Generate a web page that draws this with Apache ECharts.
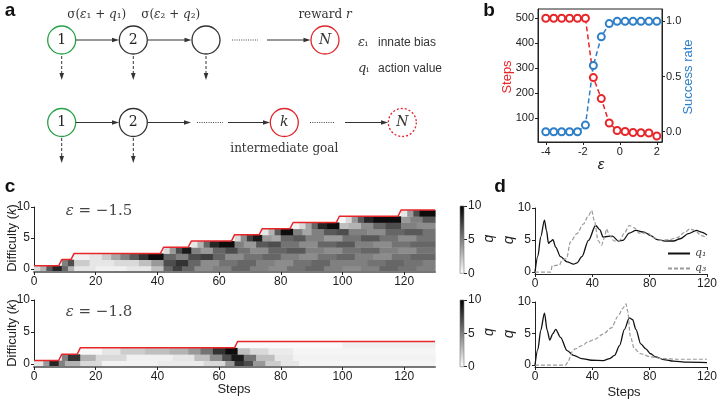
<!DOCTYPE html>
<html>
<head>
<meta charset="utf-8">
<script src="https://cdn.jsdelivr.net/npm/echarts@6/dist/echarts.min.js"></script>
<style>
html, body { margin: 0; padding: 0; background: #fff; }
#chart-container { width: 720px; height: 399px; }
</style>
</head>
<body>
<div id="chart-container"></div>
<script>
var dom = document.getElementById("chart-container");
var myChart = echarts.init(dom, null, { renderer: "canvas" });

const SANS = "Liberation Sans, Arial, sans-serif";
const SERIF = "DejaVu Serif, serif";

// panel b: steps / success rate against innate bias
const epsValues = [-4, -3.571, -3.143, -2.714, -2.286, -1.857, -1.429, -1, -0.571, -0.143, 0.286, 0.714, 1.143, 1.571, 2];
const stepsValues = [500, 500, 500, 500, 500, 500, 262, 178, 80, 50, 46, 42, 41, 40, 28];
const successValues = [0, 0, 0, 0, 0, 0.06, 0.6, 0.86, 0.98, 1, 1, 1, 1, 1, 1];
const epsTicks = [-4, -2, 0, 2];
const stepsTicks = [100, 200, 300, 400, 500];
const rateTicks = [0, 0.5, 1];

// panel c: q per difficulty row, segments [fromStep, toStep, q]
const stepTicks = [0, 20, 40, 60, 80, 100, 120];
const kTicks = [0, 5, 10];
const heatTopRows = [
  [[0,2,1.5],[2,4,3],[4,6,6.5],[6,9,8.5],[9,11,6],[11,13,3],[13,20,1],[20,30,0.6],[30,38,1],[38,42,2.5],[42,45,6],[45,48,7.5],[48,52,6],[52,58,4.5],[58,64,5],[64,70,6],[70,76,5],[76,82,4.5],[82,88,5.5],[88,94,6],[94,100,5],[100,106,4.5],[106,112,5],[112,118,6],[118,124,5.5],[124,130,5]],
  [[9,11,5],[11,13,7],[13,18,2],[18,26,1],[26,34,1.5],[34,38,2.5],[38,42,4],[42,46,7],[46,50,8],[50,54,6],[54,60,4.5],[60,66,5.5],[66,72,6],[72,78,5],[78,84,4.5],[84,90,5.5],[90,96,6],[96,102,5],[102,108,5],[108,114,5.5],[114,120,6],[120,126,5.5],[126,130,5]],
  [[13,18,0.5],[18,22,1],[22,25,2],[25,28,3.5],[28,31,5],[31,34,6.5],[34,37,8],[37,42,9.5],[42,46,6],[46,50,5],[50,54,7],[54,58,7.5],[58,62,6],[62,68,4.5],[68,74,5.5],[74,80,6],[80,86,5],[86,92,4.5],[92,98,5.5],[98,104,6],[104,110,5],[110,116,4.5],[116,122,5.5],[122,130,6]],
  [[42,44,1.5],[44,46,4],[46,48,7],[48,51,9],[51,54,5],[54,58,4],[58,62,6],[62,66,7],[66,70,5.5],[70,76,4.5],[76,82,6],[82,88,6.5],[88,94,5],[94,100,4.5],[100,106,5.5],[106,112,6],[112,118,5],[118,124,4.5],[124,130,5.5]],
  [[51,53,1],[53,55,3],[55,57,6],[57,60,8.5],[60,65,9.5],[65,68,5],[68,72,4],[72,76,6.5],[76,80,7],[80,86,5.5],[86,92,4.5],[92,98,6],[98,104,6.5],[104,110,5],[110,116,4.5],[116,122,5.5],[122,130,6]],
  [[65,67,1.5],[67,69,4.5],[69,71,7.5],[71,74,9],[74,77,4],[77,80,3.5],[80,84,6],[84,88,6.5],[88,94,5],[94,100,4],[100,106,5.5],[106,112,6.5],[112,118,5.5],[118,124,4.5],[124,130,5.5]],
  [[74,76,1],[76,78,3],[78,80,6.5],[80,84,9.5],[84,87,5],[87,90,3.5],[90,94,5],[94,98,6.5],[98,102,7],[102,108,5],[108,114,4.5],[114,120,6],[120,126,6.5],[126,130,5.5]],
  [[84,86,0.5],[86,88,1.5],[88,90,3.5],[90,92,6],[92,95,8.5],[95,99,9.5],[99,102,2.5],[102,106,3],[106,110,4.5],[110,114,6],[114,119,7],[119,124,5],[124,130,4.5]],
  [[99,101,0.3],[101,103,1.5],[103,105,4],[105,107,6.5],[107,110,8.5],[110,119,9.5],[119,122,4],[122,126,5],[126,130,6.5]],
  [[119,121,1],[121,123,4],[123,125,7],[125,130,9.5]],
];
const heatBottomRows = [
  [[0,3,1],[3,5,4],[5,8,8.5],[8,10,5],[10,15,3],[15,22,1.5],[22,40,0.5],[40,55,0.8],[55,62,1.5],[62,65,4],[65,68,8],[68,71,7],[71,75,4],[75,80,2],[80,86,1],[86,130,0.4]],
  [[9,11,5],[11,15,8],[15,20,3],[20,30,1.5],[30,45,0.6],[45,52,1],[52,57,2.5],[57,61,4.5],[61,64,7],[64,68,9],[68,72,5.5],[72,78,2.5],[78,84,1],[84,130,0.5]],
  [[15,22,0.3],[22,28,1],[28,36,2],[36,44,2.5],[44,50,3],[50,54,4],[54,58,5.5],[58,62,8],[62,66,9.5],[66,70,2.5],[70,76,1.5],[76,84,0.8],[84,130,0.4]],
  [[66,100,0.2],[100,130,0.6]],
];
const goalTop = [[0,0.5],[8,0.5],[9,1.5],[12,1.5],[13,2.5],[41,2.5],[42,3.5],[50,3.5],[51,4.5],[64,4.5],[65,5.5],[73,5.5],[74,6.5],[83,6.5],[84,7.5],[98,7.5],[99,8.5],[118,8.5],[119,9.5],[130,9.5]];
const goalBottom = [[0,0.5],[8,0.5],[9,1.5],[14,1.5],[15,2.5],[65,2.5],[66,3.5],[130,3.5]];

// panel d: action values over steps
const dStepTicks = [0, 40, 80, 120];
const qTicks = [0, 5, 10];
const q1Top = [[0,0],[2,2.5],[4,5.5],[6.6,8.1],[8,6.5],[9.4,4.5],[11,4.8],[12.5,5.05],[14.4,3.9],[17.8,2.4],[22.4,1.6],[27,1.24],[29.3,1.44],[32.7,2.4],[37.3,4.95],[42.3,7.27],[45.3,6.6],[47.5,5.46],[51,5.57],[54,5.6],[58.3,4.85],[61.3,4.95],[65.8,6.08],[70.4,6.5],[76.1,6.24],[80.7,5.7],[85.3,5.05],[91,4.85],[96.7,4.85],[101.3,5.2],[107,6],[112.7,6.5],[116.1,6.24],[120,5.8]];
const q3Top = [[0,0],[11,0],[12,1],[17,1.1],[19,1.9],[22,2.1],[24.7,4.7],[29.3,6],[33.8,7.5],[37.3,8.8],[39.5,9.6],[41.4,8],[44.1,4.9],[46.4,4.2],[48.7,5.5],[49.8,6.75],[52.1,5.7],[55.1,4.85],[59,4.95],[62.4,6.08],[65.8,7.27],[69.3,6.9],[72.7,6.08],[78.4,6.1],[83,5.36],[87.5,4.95],[93.3,5.05],[99,5.36],[104.7,6.24],[108.1,6.75],[111.5,6.5],[116.1,5.7],[120,5.3]];
const q1Bottom = [[0,0],[2,2.5],[4,5.5],[6.6,8.25],[8.5,5.5],[10.3,3.97],[12.5,5],[14.4,5.67],[17.8,4.4],[22.4,2.3],[27,1.55],[32.7,1.03],[39.5,0.77],[47.5,0.72],[52.1,1.03],[55.5,1.55],[59,3.1],[62.4,5.67],[65.8,7.47],[68.1,7.2],[70.4,5.67],[73.8,3.35],[77.3,2.58],[80.7,1.8],[84.1,1.29],[89.8,0.88],[96.7,0.62],[105.8,0.46],[120,0.4]];
const q3Bottom = [[0,0],[21.3,0],[23,0.5],[24.7,1.29],[26,2.2],[28.1,2.58],[32.7,3.1],[37.3,3.7],[41.8,4.1],[47.5,4.9],[53.3,5.9],[57.8,7.7],[61.3,9],[63.5,9.7],[64.7,8.5],[66.5,4.6],[69.3,2.58],[73.8,1.8],[80.7,1.29],[89.8,1.03],[98.9,0.93],[120,0.93]];

function flattenRows(rows) {
  const out = [];
  rows.forEach((row, k) => row.forEach((s) => out.push([s[0], s[1], k, s[2]])));
  return out;
}

function heatCell(params, api) {
  const a = api.coord([api.value(0), api.value(2) + 0.5]);
  const b = api.coord([api.value(1), api.value(2) - 0.5]);
  return {
    type: "rect",
    shape: { x: a[0], y: a[1], width: b[0] - a[0] + 0.6, height: b[1] - a[1] + 0.4 },
    style: { fill: api.visual("color") },
  };
}

function colorBar(params, api) {
  const a = api.coord([0, 10]);
  const b = api.coord([1, 0]);
  return {
    type: "rect",
    shape: { x: a[0], y: a[1], width: b[0] - a[0], height: b[1] - a[1] },
    style: {
      fill: new echarts.graphic.LinearGradient(0, 0, 0, 1, [
        { offset: 0, color: "#000" },
        { offset: 1, color: "#fff" },
      ]),
      stroke: "#777",
      lineWidth: 0.6,
    },
  };
}

const tickText = { fontFamily: SANS, fontSize: 12, color: "#222" };

function valAxis(gridIndex, min, max, ticks, extra) {
  return Object.assign({
    type: "value", gridIndex, min, max,
    axisLine: { show: true, onZero: false, lineStyle: { color: "#222", width: 1 } },
    axisTick: { show: true, customValues: ticks, length: 3, lineStyle: { color: "#222" } },
    axisLabel: Object.assign({ customValues: ticks, margin: 4 }, tickText),
    splitLine: { show: false },
  }, extra || {});
}

// panel a diagram
function circleEl(cx, cy, color, dashed) {
  return { type: "circle", shape: { cx, cy, r: 14 }, style: { fill: "#fff", stroke: color, lineWidth: 1.3, lineDash: dashed ? [2, 2] : null } };
}
function arrowEl(x1, y1, x2, y2, dashed) {
  const horiz = y1 === y2;
  const pts = horiz ? [[x2, y2], [x2 - 7, y2 - 2.3], [x2 - 7, y2 + 2.3]] : [[x2, y2], [x2 - 2.3, y2 - 7], [x2 + 2.3, y2 - 7]];
  return [
    { type: "line", shape: { x1, y1, x2: horiz ? x2 - 5 : x2, y2: horiz ? y2 : y2 - 5 }, style: { stroke: "#333", lineWidth: 1, lineDash: dashed ? [3, 2] : null } },
    { type: "polygon", shape: { points: pts }, style: { fill: "#333" } },
  ];
}
function dotsEl(x1, x2, y) {
  return { type: "line", shape: { x1, y1: y, x2, y2: y }, style: { stroke: "#444", lineWidth: 1, lineDash: [1, 1.3] } };
}
function textEl(x, y, text, st, rot) {
  return {
    type: "text", x, y, rotation: rot || 0,
    style: Object.assign({ text, align: "center", verticalAlign: "middle", fill: "#222", fontFamily: SANS, fontSize: 13 }, st),
  };
}

const GREEN = "#27a047", RED = "#e0262c", DARK = "#333";
const mathRich = { i: { fontFamily: SERIF, fontStyle: "italic", fontSize: 12, fill: "#333" } };
const serifSt = { fontFamily: SERIF, fontSize: 12, fill: "#333", rich: mathRich };
const italicSerif = { fontFamily: SERIF, fontSize: 14, fontStyle: "italic", fill: "#333" };
const symRich = { i: { fontFamily: SERIF, fontStyle: "italic", fontSize: 13, fill: "#333" } };

const diagram = [].concat(
  [circleEl(61.7, 40, GREEN), circleEl(133.3, 40, DARK), circleEl(206, 40, DARK), circleEl(325, 40, RED)],
  arrowEl(76, 40, 119, 40), arrowEl(148, 40, 191.5, 40), [dotsEl(232, 258, 40)], arrowEl(267, 40, 310.5, 40),
  arrowEl(61.7, 56, 61.7, 80, true), arrowEl(133.3, 56, 133.3, 80, true), arrowEl(206, 56, 206, 80, true),
  [
    textEl(61.7, 40, "1", { fontFamily: SERIF, fontSize: 14 }),
    textEl(133.3, 40, "2", { fontFamily: SERIF, fontSize: 14 }),
    textEl(325, 40, "N", italicSerif),
    textEl(96.7, 15, "σ({i|ε}₁ + {i|q}₁)", serifSt),
    textEl(170.7, 15, "σ({i|ε}₂ + {i|q}₂)", serifSt),
    textEl(325, 15, "reward {i|r}", serifSt),
    textEl(358, 43, "{i|ε}ᵢ", { fontFamily: SERIF, fontSize: 13, align: "left", fill: "#333", rich: symRich }),
    textEl(378, 43, "innate bias", { fontSize: 12, align: "left", fill: "#333" }),
    textEl(358, 69, "{i|q}ᵢ", { fontFamily: SERIF, fontSize: 13, align: "left", fill: "#333", rich: symRich }),
    textEl(378, 69, "action value", { fontSize: 12, align: "left", fill: "#333" }),
  ],
  [circleEl(61.7, 122.5, GREEN), circleEl(133.3, 122.5, DARK), circleEl(284.3, 122.5, RED), circleEl(402.3, 122.5, RED, true)],
  arrowEl(76, 122.5, 119, 122.5), arrowEl(148, 122.5, 191, 122.5), [dotsEl(197, 223, 122.5)], arrowEl(228, 122.5, 270, 122.5),
  [dotsEl(310, 335, 122.5)], arrowEl(345, 122.5, 388, 122.5),
  arrowEl(61.7, 138, 61.7, 163, true), arrowEl(133.3, 138, 133.3, 163, true),
  [
    textEl(61.7, 122.5, "1", { fontFamily: SERIF, fontSize: 14 }),
    textEl(133.3, 122.5, "2", { fontFamily: SERIF, fontSize: 14 }),
    textEl(284.3, 122.5, "k", italicSerif),
    textEl(402.3, 122.5, "N", italicSerif),
    textEl(284.3, 149, "intermediate goal", serifSt),
  ]
);

const panelLabels = [
  textEl(10, 11, "a", { fontSize: 19, fontWeight: "bold", fill: "#111" }),
  textEl(489, 11, "b", { fontSize: 19, fontWeight: "bold", fill: "#111" }),
  textEl(10, 187, "c", { fontSize: 19, fontWeight: "bold", fill: "#111" }),
  textEl(500, 187, "d", { fontSize: 19, fontWeight: "bold", fill: "#111" }),
];

const diffRich = { i: { fontFamily: SANS, fontStyle: "italic", fontSize: 13, fill: "#222" } };
const epsRich = { i: { fontFamily: SERIF, fontStyle: "italic", fontSize: 15, fill: "#444" } };
const axisNames = [
  textEl(507.5, 77, "Steps", { fill: "#e8262a" }, Math.PI / 2),
  textEl(688, 77, "Success rate", { fill: "#2e7ec8" }, Math.PI / 2),
  textEl(601, 165, "ε", { fontSize: 15, fontStyle: "italic" }),
  textEl(12, 238, "Difficulty ({i|k})", { rich: diffRich }, Math.PI / 2),
  textEl(12, 333, "Difficulty ({i|k})", { rich: diffRich }, Math.PI / 2),
  textEl(234, 389, "Steps", {}),
  textEl(624, 392, "Steps", {}),
  textEl(489.5, 238.5, "q", { fontStyle: "italic", fontSize: 14 }, Math.PI / 2),
  textEl(489.5, 332, "q", { fontStyle: "italic", fontSize: 14 }, Math.PI / 2),
  textEl(509, 240, "q", { fontStyle: "italic", fontSize: 15 }, Math.PI / 2),
  textEl(509, 334, "q", { fontStyle: "italic", fontSize: 15 }, Math.PI / 2),
  textEl(99, 211, "{i|ε} = −1.5", { fontFamily: SERIF, fontSize: 15, fill: "#444", rich: epsRich }),
  textEl(99, 312, "{i|ε} = −1.8", { fontFamily: SERIF, fontSize: 15, fill: "#444", rich: epsRich }),
];

const stepAxisExtra = { axisLine: { show: true, onZero: false, lineStyle: { color: "#777", width: 2 } }, z: 5 };
const barAxisExtra = { position: "right", axisLine: { show: false, onZero: false } };

var option = {
  animation: false,
  backgroundColor: "#fff",
  grid: [
    { left: 34, top: 207, width: 401, height: 65 },
    { left: 34, top: 300, width: 401, height: 67 },
    { left: 460, top: 206, width: 4, height: 67.3 },
    { left: 460, top: 300, width: 4, height: 66.7 },
    { left: 538, top: 9, width: 124, height: 133, show: true, borderColor: "#222", borderWidth: 1 },
    { left: 535, top: 208, width: 175, height: 66 },
    { left: 535, top: 302, width: 175, height: 65 },
  ],
  xAxis: [
    valAxis(0, 0, 130, stepTicks, stepAxisExtra),
    valAxis(1, 0, 130, stepTicks, stepAxisExtra),
    { type: "value", gridIndex: 2, min: 0, max: 1, show: false },
    { type: "value", gridIndex: 3, min: 0, max: 1, show: false },
    valAxis(4, -4.42, 2.28, epsTicks, { axisLabel: Object.assign({ customValues: epsTicks, margin: 4 }, tickText, { fontSize: 11 }) }),
    valAxis(5, 0, 120, dStepTicks),
    valAxis(6, 0, 120, dStepTicks),
  ],
  yAxis: [
    valAxis(0, -0.5, 10, kTicks),
    valAxis(1, -0.5, 10, kTicks),
    valAxis(2, 0, 10, kTicks, barAxisExtra),
    valAxis(3, 0, 10, kTicks, barAxisExtra),
    valAxis(4, 4, 537, stepsTicks, { axisLabel: Object.assign({ customValues: stepsTicks, margin: 4 }, tickText, { fontSize: 11 }) }),
    valAxis(4, -0.093, 1.112, rateTicks, {
      position: "right",
      axisLabel: Object.assign({ customValues: rateTicks, margin: 4, formatter: (v) => v.toFixed(1) }, tickText, { fontSize: 11 }),
    }),
    valAxis(5, -0.3, 10, qTicks),
    valAxis(6, -0.3, 10, qTicks),
  ],
  visualMap: {
    show: false,
    type: "continuous",
    min: 0,
    max: 10,
    dimension: 3,
    seriesIndex: [0, 2],
    inRange: { color: ["#ffffff", "#000000"] },
  },
  legend: {
    data: ["q₁", "q₃"],
    orient: "vertical",
    left: 662,
    top: 243,
    itemWidth: 22,
    itemHeight: 8,
    itemGap: 4,
    selectedMode: false,
    itemStyle: { opacity: 0 },
    textStyle: { fontFamily: SERIF, fontStyle: "italic", fontSize: 11, color: "#444" },
  },
  graphic: { elements: diagram.concat(panelLabels, axisNames) },
  series: [
    { type: "custom", xAxisIndex: 0, yAxisIndex: 0, renderItem: heatCell, encode: { x: [0, 1], y: 2 }, data: flattenRows(heatTopRows) },
    { type: "line", xAxisIndex: 0, yAxisIndex: 0, data: goalTop, symbol: "none", lineStyle: { color: "#e8262a", width: 1.5 }, z: 4 },
    { type: "custom", xAxisIndex: 1, yAxisIndex: 1, renderItem: heatCell, encode: { x: [0, 1], y: 2 }, data: flattenRows(heatBottomRows) },
    { type: "line", xAxisIndex: 1, yAxisIndex: 1, data: goalBottom, symbol: "none", lineStyle: { color: "#e8262a", width: 1.5 }, z: 4 },
    { type: "custom", xAxisIndex: 2, yAxisIndex: 2, renderItem: colorBar, data: [[0, 0]] },
    { type: "custom", xAxisIndex: 3, yAxisIndex: 3, renderItem: colorBar, data: [[0, 0]] },
    {
      name: "Steps", type: "line", xAxisIndex: 4, yAxisIndex: 4,
      data: epsValues.map((e, i) => [e, stepsValues[i]]),
      symbol: "emptyCircle", symbolSize: 7, color: "#e8262a",
      itemStyle: { borderWidth: 1.3 },
      lineStyle: { type: [5, 3], width: 1.5 },
    },
    {
      name: "Success rate", type: "line", xAxisIndex: 4, yAxisIndex: 5,
      data: epsValues.map((e, i) => [e, successValues[i]]),
      symbol: "emptyCircle", symbolSize: 7, color: "#2e7ec8",
      itemStyle: { borderWidth: 1.3 },
      lineStyle: { type: [5, 3], width: 1.5 },
    },
    { name: "q₁", type: "line", xAxisIndex: 5, yAxisIndex: 6, data: q1Top, symbol: "none", smooth: 0.3, smoothMonotone: "x", color: "#111", lineStyle: { width: 1.3 } },
    { name: "q₃", type: "line", xAxisIndex: 5, yAxisIndex: 6, data: q3Top, symbol: "none", smooth: 0.3, smoothMonotone: "x", color: "#9a9a9a", lineStyle: { width: 1.2, type: [4, 2] } },
    { name: "q₁", type: "line", xAxisIndex: 6, yAxisIndex: 7, data: q1Bottom, symbol: "none", smooth: 0.3, smoothMonotone: "x", color: "#111", lineStyle: { width: 1.3 } },
    { name: "q₃", type: "line", xAxisIndex: 6, yAxisIndex: 7, data: q3Bottom, symbol: "none", smooth: 0.3, smoothMonotone: "x", color: "#9a9a9a", lineStyle: { width: 1.2, type: [4, 2] } },
  ],
};

myChart.setOption(option);
window.addEventListener("resize", myChart.resize);
</script>
</body>
</html>
